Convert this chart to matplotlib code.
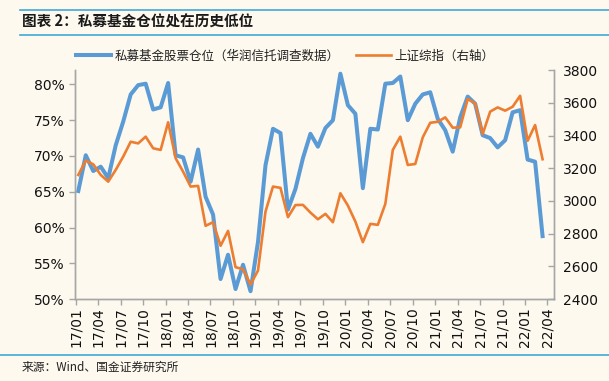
import numpy as np
import matplotlib
matplotlib.use("Agg")
import matplotlib.pyplot as plt
from matplotlib.lines import Line2D

plt.rcParams["font.family"] = ["Noto Sans CJK SC", "DejaVu Sans"]

# monthly observations, 2017/01 .. 2022/03
position_pct = [
    65.1, 70.1, 67.9, 68.5, 66.9, 71.5, 74.8, 78.6, 79.9, 80.1, 76.5, 76.8,
    80.2, 70.1, 69.8, 66.4, 70.9, 64.3, 61.8, 52.8, 56.2, 51.4, 54.8, 51.1,
    58.0, 68.7, 73.8, 73.2, 62.5, 65.4, 69.7, 73.1, 71.3, 73.9, 75.0, 81.5,
    77.1, 75.9, 65.5, 73.8, 73.7, 80.1, 80.2, 81.1, 75.0, 77.3, 78.6, 78.9,
    75.2, 73.6, 70.6, 75.4, 78.3, 77.3, 72.9, 72.5, 71.2, 72.2, 76.1, 76.4,
    69.5, 69.2, 58.8,
]
sse_index = [
    3159, 3247, 3224, 3159, 3118, 3190, 3271, 3362, 3352, 3393, 3322, 3312,
    3481, 3261, 3179, 3088, 3092, 2848, 2870, 2726, 2817, 2595, 2583, 2489,
    2575, 2935, 3088, 3080, 2901, 2975, 2976, 2929, 2888, 2921, 2870, 3047,
    2972, 2874, 2748, 2860, 2854, 2982, 3312, 3393, 3220, 3226, 3389, 3478,
    3484, 3511, 3448, 3450, 3623, 3597, 3409, 3546, 3572, 3552, 3576, 3643,
    3368, 3464, 3255,
]
tick_labels = [
    "17/01", "17/04", "17/07", "17/10", "18/01", "18/04", "18/07", "18/10",
    "19/01", "19/04", "19/07", "19/10", "20/01", "20/04", "20/07", "20/10",
    "21/01", "21/04", "21/07", "21/10", "22/01", "22/04",
]
left_ticks = [50, 55, 60, 65, 70, 75, 80]
right_ticks = [2400, 2600, 2800, 3000, 3200, 3400, 3600, 3800]

BG = "#fdf9ef"
BLUE = "#5b9bd5"
ORANGE = "#ed7d31"
GRID = "#a6a6a6"
RULE = "#41a8d8"

fig = plt.figure(figsize=(6.09, 3.81), dpi=100, facecolor=BG)
ax = fig.add_axes([0.123, 0.215, 0.787, 0.601], facecolor=BG)
ax2 = ax.twinx()

x = np.arange(len(position_pct)) + 0.35
ax.plot(x, position_pct, color=BLUE, lw=2.9, solid_joinstyle="round")
ax2.plot(x, sse_index, color=ORANGE, lw=1.9, solid_joinstyle="round")

ax.set_xlim(-0.1, 63.9)
ax.set_xticks(np.arange(len(tick_labels)) * 3)
ax.set_xticklabels(tick_labels, rotation=90, fontsize=10, family="DejaVu Sans")

ax.set_ylim(50, 82)
ax.set_yticks(left_ticks)
ax.set_yticklabels([f"{v}%" for v in left_ticks], fontsize=10, family="DejaVu Sans")
ax2.set_ylim(2400, 3800)
ax2.set_yticks(right_ticks)
ax2.set_yticklabels([str(v) for v in right_ticks], fontsize=10, family="DejaVu Sans")

for a in (ax, ax2):
    a.spines["top"].set_visible(False)
    for s in ("left", "right", "bottom"):
        a.spines[s].set_color(GRID)
        a.spines[s].set_linewidth(1.0)
ax.tick_params(axis="both", colors=GRID, labelcolor="#111111", length=4, width=1)
ax.tick_params(axis="x", pad=2)
ax2.tick_params(axis="y", colors=GRID, labelcolor="#111111", length=4, width=1,
                direction="in", pad=6)

handles = [Line2D([], [], color=BLUE, lw=2.9), Line2D([], [], color=ORANGE, lw=1.9)]
fig.legend(handles, ["私募基金股票仓位（华润信托调查数据）", "上证综指（右轴）"],
           loc="center", bbox_to_anchor=(0.468, 0.853), ncol=2, frameon=False,
           fontsize=9, handlelength=2.8, handletextpad=0.3, columnspacing=1.3,
           labelcolor="#222222")

# title band and footer
fig.add_artist(Line2D([20 / 609, 1], [1 - 9.5 / 381] * 2, color=RULE, lw=1.2))
fig.add_artist(Line2D([20 / 609, 1], [1 - 34.5 / 381] * 2, color=RULE, lw=1.2))
fig.text(22 / 609, 1 - 22 / 381, "图表 2：私募基金仓位处在历史低位", fontsize=10.5,
         fontweight="bold", color="#1a1a1a", va="center", ha="left")
fig.add_artist(Line2D([0, 1], [1 - 354.5 / 381] * 2, color=RULE, lw=1.2))
fig.text(22 / 609, 1 - 367 / 381, "来源：Wind、国金证券研究所", fontsize=8.5,
         color="#222222", va="center", ha="left")

fig.savefig("out.png", dpi=100, facecolor=BG)
